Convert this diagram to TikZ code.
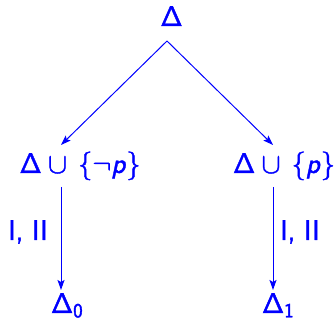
\RequirePackage{fix-cm}
\documentclass[tikz,border=0pt]{standalone}
\usetikzlibrary{arrows.meta}
\DeclareMathAlphabet{\mathsfit}{OT1}{cmss}{m}{sl}
\newcommand{\Dl}{\mathsf{\Delta}}
\newcommand{\thk}[1]{\special{pdf:literal direct 2 Tr 0.4 w}#1\special{pdf:literal direct 0 Tr}}
\begin{document}
\begin{tikzpicture}[x=1pt,y=-1pt,
  lbl/.style={text=blue,font=\fontsize{28.5}{34}\selectfont,inner sep=0pt,anchor=base},
  arr/.style={draw=blue,line width=1pt,-{Stealth[length=10pt,width=7pt,inset=2pt]}}]
\useasboundingbox (0,0) rectangle (335,323);
\node[lbl] (top) at (171.5,26) {\thk{$\Dl$}};
\node[lbl] (L) at (80,173) {\thk{$\Dl\cup\,\{\neg\mathsfit{p}\}$}};
\node[lbl] (R) at (284,173) {\thk{$\Dl\cup\,\{\mathsfit{p}\}$}};
\node[lbl] (D0) at (67,313) {\thk{$\Dl_{\mathsf{0}}$}};
\node[lbl] (D1) at (278,313) {\thk{$\Dl_{\mathsf{1}}$}};
\node[lbl] (l1) at (28,240) {\thk{\sffamily I, II}};
\node[lbl] (l2) at (300,240) {\thk{\sffamily I, II}};
\coordinate (tA) at (167,41);
\coordinate (lT) at (61,145);
\coordinate (rT) at (273,145);
\coordinate (lS) at (61,187);
\coordinate (lE) at (61,290);
\coordinate (rS) at (273,187);
\coordinate (rE) at (273,290);
\draw[arr] (tA) -- (lT);
\draw[arr] (tA) -- (rT);
\draw[arr] (lS) -- (lE);
\draw[arr] (rS) -- (rE);
\end{tikzpicture}
\end{document}
